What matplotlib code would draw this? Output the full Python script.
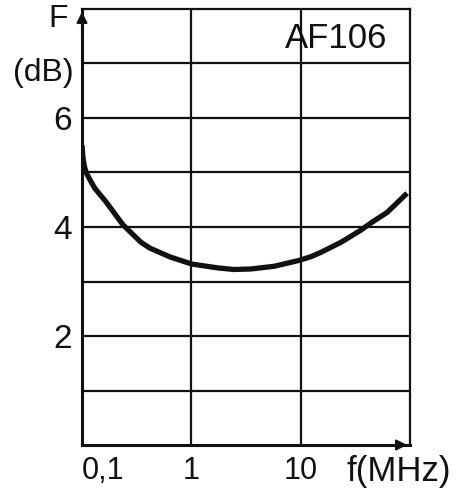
import matplotlib
matplotlib.use("Agg")
import matplotlib.pyplot as plt
from matplotlib.ticker import NullLocator

plt.rcParams['font.family'] = ['Liberation Sans', 'DejaVu Sans']

# Data
freq_mhz = [0.1, 0.102, 0.105, 0.109, 0.118, 0.131, 0.166, 0.237, 0.346, 0.42, 0.64, 1.01, 1.74,
            2.45, 3.52, 5.74, 9.8, 12.6, 15.5, 23.4, 35.4, 43.6, 62, 94]
noise_db = [5.50, 5.28, 5.12, 5.00, 4.87, 4.71, 4.46, 4.04, 3.72, 3.61, 3.45, 3.32, 3.25,
            3.22, 3.23, 3.28, 3.39, 3.46, 3.54, 3.72, 3.94, 4.07, 4.27, 4.62]
x_ticks = [0.1, 1, 10]
x_tick_labels = ['0,1', '1', '10']
y_ticks = [2, 4, 6]
y_tick_labels = ['2', '4', '6']
y_grid = [1, 2, 3, 4, 5, 6, 7]
x_grid = [1, 10]
title = 'AF106'

W, H = 460, 492
fig = plt.figure(figsize=(W / 100, H / 100), dpi=100)
ax = fig.add_axes([82 / W, 1 - 445 / H, (410 - 82) / W, (445 - 9) / H])
ax.set_xscale('log')
ax.set_xlim(0.1, 100)
ax.set_ylim(0, 8)
ink = '#111111'

for y in y_grid:
    ax.axhline(y, color=ink, lw=1.6, zorder=1)
for x in x_grid:
    ax.axvline(x, color=ink, lw=1.6, zorder=1)

ax.plot(freq_mhz, noise_db, color=ink, lw=3.8, solid_capstyle='butt',
        solid_joinstyle='round', zorder=3)

for s in ['top', 'right']:
    ax.spines[s].set_linewidth(1.6)
    ax.spines[s].set_color(ink)
for s in ['left', 'bottom']:
    ax.spines[s].set_linewidth(2.2)
    ax.spines[s].set_color(ink)

ax.xaxis.set_minor_locator(NullLocator())
ax.set_xticks(x_ticks)
ax.set_xticklabels(x_tick_labels)
ax.set_yticks(y_ticks)
ax.set_yticklabels(y_tick_labels)
ax.tick_params(axis='y', length=0, labelsize=24, colors=ink, pad=7)
ax.tick_params(axis='x', length=0, labelsize=22, colors=ink, pad=8)
for lbl in ax.get_xticklabels():
    if lbl.get_text() == '0,1':
        lbl.set_horizontalalignment('left')

# arrows at axis ends
ax.annotate('', xy=(0, 1.0), xycoords='axes fraction', xytext=(0, 0.93),
            arrowprops=dict(arrowstyle='-|>', color=ink, lw=1.5, mutation_scale=16))
ax.annotate('', xy=(1.0, 0), xycoords='axes fraction', xytext=(0.94, 0),
            arrowprops=dict(arrowstyle='-|>', color=ink, lw=1.5, mutation_scale=16))

ax.text(0.93, 0.932, title, transform=ax.transAxes, ha='right', va='center',
        fontsize=25, color=ink, zorder=4)

fig.text(58 / W, 1 - 19 / H, 'F', ha='center', va='center', fontsize=23, color=ink)
fig.text(43 / W, 1 - 73 / H, '(dB)', ha='center', va='center', fontsize=23, color=ink)
fig.text(399 / W, 1 - 472 / H, 'f(MHz)', ha='center', va='center', fontsize=25, color=ink)

fig.savefig('out.png', dpi=100, facecolor='white')
